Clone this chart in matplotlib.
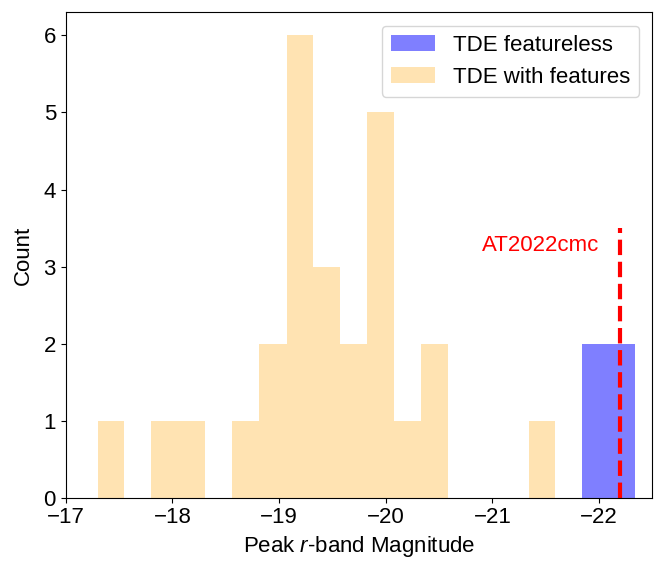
import numpy as np
import matplotlib
matplotlib.use("Agg")
import matplotlib.pyplot as plt

plt.rcParams['font.family'] = ['Liberation Sans', 'DejaVu Sans']
plt.rcParams['mathtext.fontset'] = 'custom'
plt.rcParams['mathtext.it'] = 'Liberation Sans:italic'
plt.rcParams['mathtext.rm'] = 'Liberation Sans'

# Histogram bins (magnitudes) and counts
feat_edges = [-21.59, -21.34, -21.09, -20.83, -20.58, -20.33, -20.08, -19.82,
              -19.57, -19.32, -19.07, -18.81, -18.56, -18.31, -18.06, -17.80,
              -17.55, -17.30]
feat_counts = [1, 0, 0, 0, 2, 1, 5, 2, 3, 6, 2, 1, 0, 1, 1, 0, 1]

featless_edges = [-22.34, -22.09, -21.84]
featless_counts = [2, 2]

at2022cmc_mag = -22.2
line_top = 3.5

fig = plt.figure(figsize=(6.65, 5.74), dpi=100)
ax = fig.add_axes([0.0988, 0.1329, 0.8822, 0.8457])

ax.hist(featless_edges[:-1], bins=featless_edges, weights=featless_counts,
        color='blue', alpha=0.5, label='TDE featureless')
ax.hist(feat_edges[:-1], bins=feat_edges, weights=feat_counts,
        color='orange', alpha=0.3, label='TDE with features')

ax.plot([at2022cmc_mag, at2022cmc_mag], [0, line_top], color='red', ls='--', lw=3)
ax.text(-20.9, 3.2, 'AT2022cmc', color='red', fontsize=16)

ax.set_xlim(-17, -22.5)
ax.set_ylim(0, 6.3)
ax.set_xticks([-17, -18, -19, -20, -21, -22])
ax.tick_params(labelsize=16)
ax.set_xlabel('Peak $r$-band Magnitude', fontsize=16)
ax.set_ylabel('Count', fontsize=16, labelpad=7)
ax.legend(loc='upper right', fontsize=16, borderaxespad=0.6)

fig.savefig('out.png', dpi=100)
